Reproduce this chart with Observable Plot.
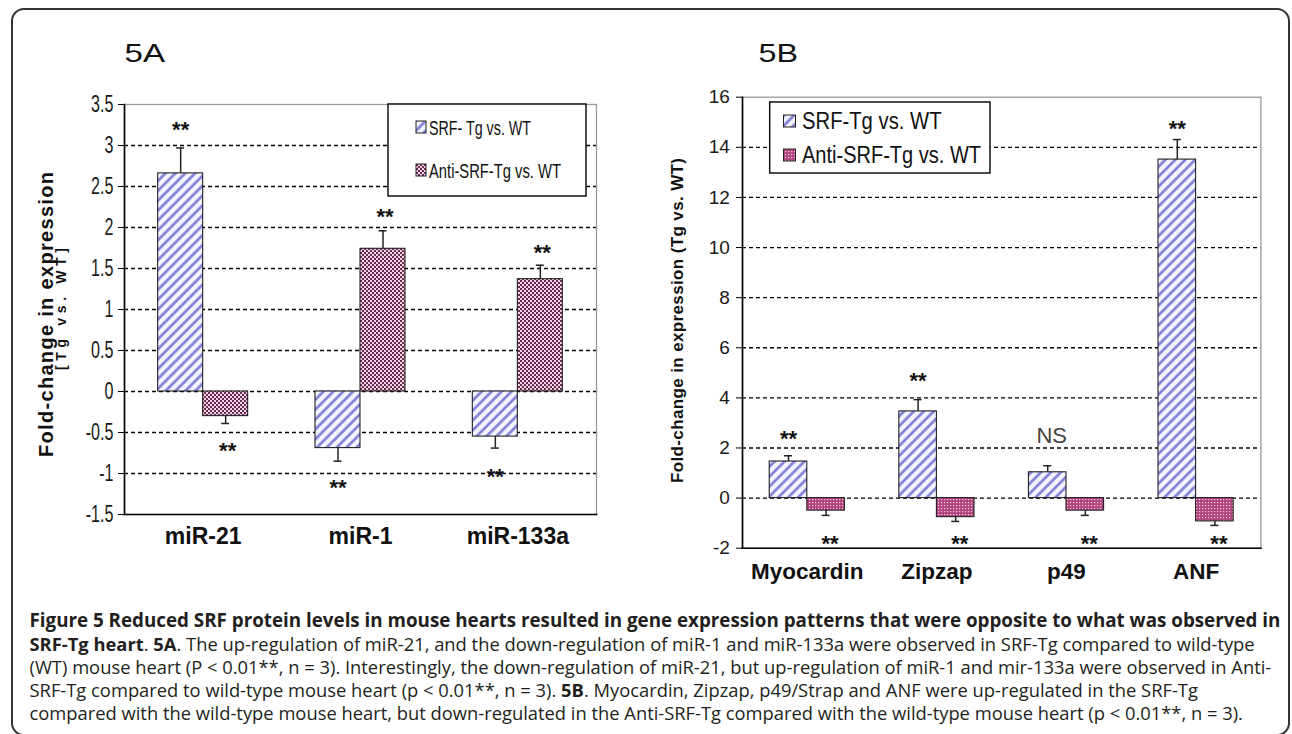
<!DOCTYPE html>
<html><head><meta charset="utf-8">
<script src="https://cdn.jsdelivr.net/npm/d3@7"></script>
<script src="https://cdn.jsdelivr.net/npm/@observablehq/plot@0.6"></script>
<style>
html,body{margin:0;padding:0;background:#fff;}
#page{position:relative;width:1292px;height:734px;overflow:hidden;background:#fff;}
#border{position:absolute;left:11px;top:8px;width:1279px;height:728px;box-sizing:border-box;border:2px solid #333;border-radius:13px;}
.panel{position:absolute;top:0;}
#caption{position:absolute;left:29.5px;top:607.5px;font-family:'Open Sans','Noto Sans',sans-serif;font-size:18.35px;line-height:23px;color:#231f20;white-space:nowrap;}
#caption b{font-weight:700;}
#caption .l1{font-size:18.8px;}
</style>
</head><body>
<div id="page">
  <div id="border"></div>
  <div class="panel" id="pA" style="left:0;"></div>
  <div class="panel" id="pB" style="left:640px;"></div>
  <div id="caption">
    <b class="l1">Figure 5 Reduced SRF protein levels in mouse hearts resulted in gene expression patterns that were opposite to what was observed in</b><br>
    <b>SRF-Tg heart</b>. <b>5A</b>. The up-regulation of miR-21, and the down-regulation of miR-1 and miR-133a were observed in SRF-Tg compared to wild-type<br>
    (WT) mouse heart (P &lt; 0.01**, n = 3). Interestingly, the down-regulation of miR-21, but up-regulation of miR-1 and mir-133a were observed in Anti-<br>
    SRF-Tg compared to wild-type mouse heart (p &lt; 0.01**, n = 3). <b>5B</b>. Myocardin, Zipzap, p49/Strap and ANF were up-regulated in the SRF-Tg<br>
    compared with the wild-type mouse heart, but down-regulated in the Anti-SRF-Tg compared with the wild-type mouse heart (p &lt; 0.01**, n = 3).
  </div>
</div>
<script>
// ---------- DATA: panel 5A ----------
const catsA = ["miR-21", "miR-1", "miR-133a"];
const srfA = [2.66, -0.69, -0.55];
const srfErrA = [0.31, 0.16, 0.14];
const antiA = [-0.30, 1.74, 1.37];
const antiErrA = [0.09, 0.22, 0.17];
const srfLabelA = ["**", "**", "**"];
const srfLabelYA = [3.26, -1.10, -0.97];
const antiLabelA = ["**", "**", "**"];
const antiLabelYA = [-0.65, 2.20, 1.76];
const yTicksA = [3.5, 3, 2.5, 2, 1.5, 1, 0.5, 0, -0.5, -1, -1.5];
const gridA = [3, 2.5, 2, 1.5, 1, 0.5, 0, -0.5, -1];
const seriesA = ["SRF- Tg vs. WT", "Anti-SRF-Tg vs. WT"];
const yTitleA = ["Fold-change in expression", "[Tg vs. WT]"];

// ---------- DATA: panel 5B ----------
const catsB = ["Myocardin", "Zipzap", "p49", "ANF"];
const srfB = [1.46, 3.46, 1.03, 13.51];
const srfErrB = [0.23, 0.47, 0.26, 0.80];
const antiB = [-0.50, -0.76, -0.50, -0.93];
const antiErrB = [0.19, 0.17, 0.19, 0.16];
const srfLabelB = ["**", "**", "NS", "**"];
const srfLabelYB = [2.58, 4.90, 2.46, 14.96];
const antiLabelB = ["**", "**", "**", "**"];
const antiLabelYB = [-1.61, -1.61, -1.61, -1.61];
const yTicksB = [16, 14, 12, 10, 8, 6, 4, 2, 0, -2];
const gridB = [14, 12, 10, 8, 6, 4, 2, 0];
const seriesB = ["SRF-Tg vs. WT", "Anti-SRF-Tg vs. WT"];
const yTitleB = ["Fold-change in expression (Tg vs. WT)"];

// ---------- rendering ----------
const SANS = "'Liberation Sans',Arial,Helvetica,sans-serif";

function rowsOf(cats, vals, errs, labs, labY) {
  return cats.map((c, i) => ({cat: c, value: vals[i], end: vals[i] + Math.sign(vals[i]) * errs[i], lab: labs[i], labY: labY[i]}));
}

function defs(p, antiKind) {
  const hatch = `<pattern id="hatch-${p}" width="7" height="7" patternUnits="userSpaceOnUse" patternTransform="rotate(45)">
      <rect width="7" height="7" fill="#f4f4ff"/><line x1="1.5" y1="0" x2="1.5" y2="7" stroke="#7d7dd6" stroke-width="2.6"/></pattern>`;
  const anti = antiKind === "check"
    ? `<pattern id="anti-${p}" width="4" height="4" patternUnits="userSpaceOnUse">
        <rect width="4" height="4" fill="#f1d4e6"/><rect width="2" height="2" fill="#6e2b51"/><rect x="2" y="2" width="2" height="2" fill="#6e2b51"/></pattern>`
    : `<pattern id="anti-${p}" width="3" height="3" patternUnits="userSpaceOnUse">
        <rect width="3" height="3" fill="#b3457e"/><rect x="1" y="1" width="1.2" height="1.2" fill="#f6cbe2"/></pattern>`;
  return hatch + anti;
}

function chart(c) {
  const n = c.cats.length;
  const step = (c.width - c.ml - c.mr) / (n - c.pin + 2 * c.pout);
  const bw = step * (1 - c.pin), half = bw / 2, q = bw / 4, cap = 4;
  const S = rowsOf(c.cats, c.srf, c.srfErr, c.srfLab, c.srfLabY);
  const A = rowsOf(c.cats, c.anti, c.antiErr, c.antiLab, c.antiLabY);
  const starOpts = {fontSize: 22, fontWeight: "bold", fontFamily: SANS, fill: "#111", dy: 6};
  const svg = Plot.plot({
    width: c.width, height: c.height,
    marginLeft: c.ml, marginRight: c.mr, marginTop: c.mt, marginBottom: c.mb,
    style: {background: "transparent", overflow: "visible", color: "#111"},
    x: {domain: c.cats, paddingInner: c.pin, paddingOuter: c.pout, round: false},
    y: {domain: c.yDomain},
    marks: [
      Plot.gridY({ticks: c.grid, stroke: "#000", strokeOpacity: 1, strokeWidth: 1.3, strokeDasharray: "4,3"}),
      Plot.frame({stroke: "#9a9a9a", strokeWidth: 1.3}),
      Plot.barY(S, {x: "cat", y1: 0, y2: "value", fill: `url(#hatch-${c.id})`, stroke: "#222", strokeWidth: 1.1, insetRight: half}),
      Plot.barY(A, {x: "cat", y1: 0, y2: "value", fill: `url(#anti-${c.id})`, stroke: "#222", strokeWidth: 1.1, insetLeft: half}),
      Plot.ruleX(S, {x: "cat", y1: "value", y2: "end", dx: -q, stroke: "#222", strokeWidth: 1.5}),
      Plot.ruleX(A, {x: "cat", y1: "value", y2: "end", dx: q, stroke: "#222", strokeWidth: 1.5}),
      Plot.tickY(S, {x: "cat", y: "end", insetLeft: q - cap, insetRight: 3 * q - cap, stroke: "#222", strokeWidth: 1.5}),
      Plot.tickY(A, {x: "cat", y: "end", insetLeft: 3 * q - cap, insetRight: q - cap, stroke: "#222", strokeWidth: 1.5}),
      Plot.text(S.filter(d => d.lab === "**"), {x: "cat", y: "labY", text: "lab", dx: -q, ...starOpts}),
      Plot.text(S.filter(d => d.lab !== "**"), {x: "cat", y: "labY", text: "lab", dx: -q + 4, fontSize: 22, fontFamily: SANS, fill: "#444"}),
      Plot.text(A, {x: "cat", y: "labY", text: "lab", dx: q + c.antiDx, ...starOpts}),
      Plot.axisY({ticks: c.yTicks, tickFormat: d => String(d), tickSize: 6, tickPadding: c.tickPad,
        fontSize: c.tickFont, fontFamily: SANS, label: null, stroke: "#000", fill: "#1a1a1a"}),
      Plot.axisX({tickSize: 0, tickPadding: c.xPad, fontSize: c.xFont, fontWeight: "bold", fontFamily: SANS, label: null, fill: "#111"}),
      Plot.frame({anchor: "left", stroke: "#000", strokeWidth: 1.6}),
      Plot.frame({anchor: "bottom", stroke: "#000", strokeWidth: 1.6})
    ]
  });
  const s = d3.select(svg);
  s.insert("defs", ":first-child").html(defs(c.id, c.antiKind));
  if (c.tickScale !== 1) {
    s.selectAll('g[aria-label="y-axis tick label"] text').attr("transform", function () {
      return (this.getAttribute("transform") || "") + ` scale(${c.tickScale},1)`;
    });
  }
  // panel label
  s.append("text").attr("x", c.panel.x).attr("y", 62).attr("text-anchor", "start")
    .attr("font-family", SANS).attr("font-size", 26.5)
    .attr("textLength", c.panel.len).attr("lengthAdjust", "spacingAndGlyphs")
    .attr("fill", "#111").text(c.panel.text);
  // y titles
  c.titles.forEach(t => {
    s.append("text").attr("transform", `translate(${t.x},${t.y}) rotate(-90)`)
      .attr("text-anchor", "middle").attr("font-family", SANS).attr("font-weight", "bold")
      .attr("font-size", t.size).attr("textLength", t.len).attr("lengthAdjust", "spacing")
      .attr("fill", "#111").text(t.text);
  });
  // legend
  const L = c.legend;
  const g = s.append("g").attr("text-anchor", "start");
  g.append("rect").attr("x", L.x).attr("y", L.y).attr("width", L.w).attr("height", L.h)
    .attr("fill", "#fff").attr("stroke", "#111").attr("stroke-width", 1.5);
  L.items.forEach((it, i) => {
    g.append("rect").attr("x", L.sx).attr("y", it.sy).attr("width", L.sw).attr("height", L.sh)
      .attr("fill", i === 0 ? `url(#hatch-${c.id})` : `url(#anti-${c.id})`).attr("stroke", "#222").attr("stroke-width", 1);
    g.append("text").attr("x", L.tx).attr("y", it.base).attr("text-anchor", "start")
      .attr("font-family", SANS).attr("font-size", L.font)
      .attr("textLength", it.len).attr("lengthAdjust", "spacingAndGlyphs").attr("fill", "#111").text(it.text);
  });
  return svg;
}

const svgA = chart({
  id: "A", cats: catsA, srf: srfA, srfErr: srfErrA, anti: antiA, antiErr: antiErrA,
  srfLab: srfLabelA, srfLabY: srfLabelYA, antiLab: antiLabelA, antiLabY: antiLabelYA,
  yDomain: [-1.5, 3.5], yTicks: yTicksA, grid: gridA,
  width: 640, height: 560, ml: 124, mr: 44, mt: 104, mb: 46, pin: 0.428, pout: 0.214,
  tickFont: 23, tickPad: 5, tickScale: 0.7, xPad: 12.7, xFont: 23, antiDx: 2,
  antiKind: "check",
  panel: {x: 124.5, len: 40.5, text: "5A"},
  titles: [
    {x: 53, y: 314.5, size: 20, len: 285, text: yTitleA[0]},
    {x: 66, y: 309, size: 14, len: 122, text: yTitleA[1]}
  ],
  legend: {x: 388, y: 104, w: 198, h: 92, sx: 416, sw: 10, sh: 12, tx: 429, font: 21,
    items: [{sy: 121, base: 134.5, len: 102, text: seriesA[0]}, {sy: 164, base: 177.5, len: 132, text: seriesA[1]}]}
});
document.getElementById("pA").appendChild(svgA);

const svgB = chart({
  id: "B", cats: catsB, srf: srfB, srfErr: srfErrB, anti: antiB, antiErr: antiErrB,
  srfLab: srfLabelB, srfLabY: srfLabelYB, antiLab: antiLabelB, antiLabY: antiLabelYB,
  yDomain: [-2, 16], yTicks: yTicksB, grid: gridB,
  width: 652, height: 600, ml: 102, mr: 31.6, mt: 96.7, mb: 52.3, pin: 0.42, pout: 0.21,
  tickFont: 19, tickPad: 6.6, tickScale: 1, xPad: 15, xFont: 22.5, antiDx: 4,
  antiKind: "dots",
  panel: {x: 118.5, len: 39.5, text: "5B"},
  titles: [{x: 43, y: 320.5, size: 17, len: 325, text: yTitleB[0]}],
  legend: {x: 129.7, y: 102, w: 220.3, h: 71, sx: 143.5, sw: 12, sh: 12, tx: 162, font: 23.5,
    items: [{sy: 115, base: 129.4, len: 139.5, text: seriesB[0]}, {sy: 149, base: 163.4, len: 179, text: seriesB[1]}]}
});
document.getElementById("pB").appendChild(svgB);
</script>
</body></html>
